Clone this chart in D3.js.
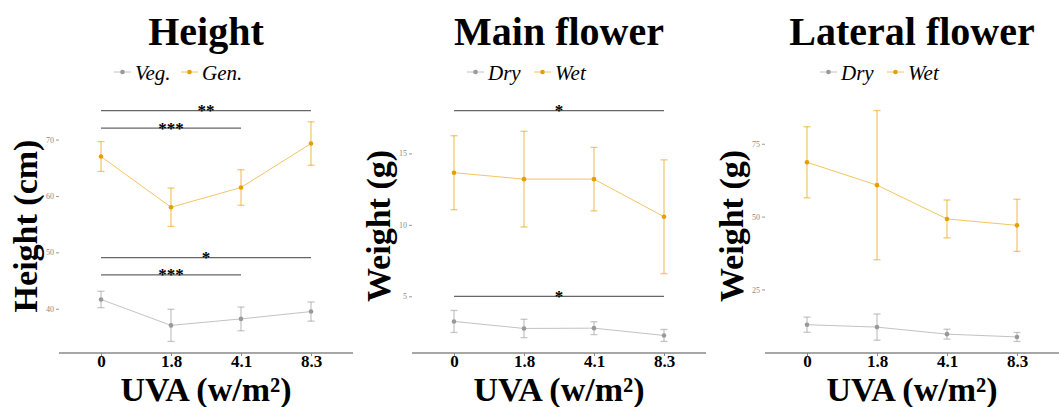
<!DOCTYPE html>
<meta charset="utf-8">
<html>

<head>
    <script src="https://d3js.org/d3.v7.min.js"></script>
    <style>
        body { margin: 0; background: #fff; }
        text { font-family: "Liberation Serif", "Times New Roman", serif; }
    </style>
</head>

<body>
    <div id="chart"></div>

    <script>
        // data
        var doses = ["0", "1.8", "4.1", "8.3"];

        var heightVegMean = [41.65, 37.05, 38.2, 39.5];
        var heightVegErr = [1.45, 2.85, 2.1, 1.7];
        var heightGenMean = [67.0, 58.0, 61.5, 69.3];
        var heightGenErr = [2.65, 3.4, 3.15, 3.85];

        var mainDryMean = [3.24, 2.75, 2.77, 2.26];
        var mainDryErr = [0.77, 0.64, 0.45, 0.42];
        var mainWetMean = [13.65, 13.2, 13.2, 10.57];
        var mainWetErr = [2.59, 3.35, 2.22, 3.98];

        var latDryMean = [12.9, 12.07, 9.66, 8.7];
        var latDryErr = [2.6, 4.5, 1.7, 1.55];
        var latWetMean = [68.64, 60.8, 49.2, 47.0];
        var latWetErr = [12.2, 25.6, 6.5, 8.95];

        // significance bars: [from, to, y, label]
        var heightSig = [["0", "4.1", 46.0, "***"], ["0", "8.3", 49.05, "*"],
                         ["0", "4.1", 72.05, "***"], ["0", "8.3", 75.15, "**"]];
        var mainSig = [["0", "8.3", 5.0, "*"], ["0", "8.3", 18.0, "*"]];
        var latSig = [];

        var heightTicks = [40, 50, 60, 70];
        var mainTicks = [5, 10, 15];
        var latTicks = [25, 50, 75];

        var panels = [
            { title: "Height", ylab: "Height (cm)", names: ["Veg.", "Gen."],
              series: [[heightVegMean, heightVegErr], [heightGenMean, heightGenErr]],
              sig: heightSig, ticks: heightTicks },
            { title: "Main flower", ylab: "Weight (g)", names: ["Dry", "Wet"],
              series: [[mainDryMean, mainDryErr], [mainWetMean, mainWetErr]],
              sig: mainSig, ticks: mainTicks },
            { title: "Lateral flower", ylab: "Weight (g)", names: ["Dry", "Wet"],
              series: [[latDryMean, latDryErr], [latWetMean, latWetErr]],
              sig: latSig, ticks: latTicks }
        ];

        var colors = ["#999999", "#E69F00"];

        var W = 1059, H = 407, panelW = 353;
        var mLeft = 59, mRight = 353, mTop = 99, mBottom = 353;

        var svg = d3.select("#chart")
            .append("svg")
            .attr("width", W)
            .attr("height", H);

        panels.forEach(function (p, i) {
            var g = svg.append("g")
                .attr("transform", "translate(" + (i * panelW) + ",0)");

            var x = d3.scalePoint()
                .domain(doses)
                .range([mLeft, mRight])
                .padding(0.6);

            // y range like ggplot: data extent + 5% each side
            var vals = [];
            p.series.forEach(function (s) {
                s[0].forEach(function (m, k) {
                    vals.push(m - s[1][k], m + s[1][k]);
                });
            });
            p.sig.forEach(function (s) { vals.push(s[2]); });
            var lo = d3.min(vals), hi = d3.max(vals), pad = (hi - lo) * 0.05;
            var y = d3.scaleLinear()
                .domain([lo - pad, hi + pad])
                .range([mBottom, mTop]);

            // title
            g.append("text")
                .attr("x", (mLeft + mRight) / 2)
                .attr("y", 45)
                .attr("text-anchor", "middle")
                .style("font-size", "40px")
                .style("font-weight", "bold")
                .text(p.title);

            // legend
            var lx = [114, 181], tx = [135, 202];
            p.names.forEach(function (nm, k) {
                g.append("line")
                    .attr("x1", lx[k]).attr("x2", lx[k] + 17)
                    .attr("y1", 72).attr("y2", 72)
                    .style("stroke", colors[k])
                    .style("stroke-opacity", 0.6)
                    .style("stroke-width", 1);
                g.append("circle")
                    .attr("cx", lx[k] + 8.5).attr("cy", 72)
                    .attr("r", 2.3)
                    .style("fill", colors[k]);
                g.append("text")
                    .attr("x", tx[k]).attr("y", 80)
                    .style("font-size", "21px")
                    .style("font-style", "italic")
                    .text(nm);
            });

            // x axis
            var xa = g.append("g")
                .attr("transform", "translate(0," + mBottom + ")")
                .call(d3.axisBottom(x).tickSize(3).tickSizeOuter(0).tickPadding(3));
            xa.select(".domain")
                .attr("d", "M" + mLeft + ",0H" + mRight)
                .style("stroke", "#8a8a8a")
                .style("stroke-width", 1.3);
            xa.selectAll(".tick line").style("stroke", "#8a8a8a");
            xa.selectAll(".tick text")
                .attr("y", 14)
                .attr("dy", 0)
                .style("font-family", "'Liberation Serif', serif")
                .style("font-size", "17px")
                .style("font-weight", "bold")
                .style("fill", "#000");

            // y axis (ticks and labels only)
            var ya = g.append("g")
                .attr("transform", "translate(" + mLeft + ",0)")
                .call(d3.axisLeft(y).tickValues(p.ticks).tickSize(3).tickPadding(2));
            ya.select(".domain").remove();
            ya.selectAll(".tick line").style("stroke", "#9a9a9a");
            ya.selectAll(".tick text")
                .style("font-family", "'Liberation Serif', serif")
                .style("font-size", "8px")
                .style("fill", "#8a8a8a");

            // axis titles
            g.append("text")
                .attr("transform", "translate(37," + ((mTop + mBottom) / 2) + ") rotate(-90)")
                .attr("text-anchor", "middle")
                .style("font-size", "34px")
                .style("font-weight", "bold")
                .text(p.ylab);

            g.append("text")
                .attr("x", (mLeft + mRight) / 2)
                .attr("y", 401)
                .attr("text-anchor", "middle")
                .style("font-size", "34px")
                .style("font-weight", "bold")
                .text("UVA (w/m²)");

            // series
            p.series.forEach(function (s, k) {
                var pts = doses.map(function (d, j) {
                    return { d: d, m: s[0][j], e: s[1][j] };
                });
                var line = d3.line()
                    .x(function (d) { return x(d.d); })
                    .y(function (d) { return y(d.m); });
                g.append("path")
                    .datum(pts)
                    .attr("d", line)
                    .style("fill", "none")
                    .style("stroke", colors[k])
                    .style("stroke-opacity", 0.6)
                    .style("stroke-width", 1);

                var eb = g.append("g")
                    .style("stroke", colors[k])
                    .style("stroke-opacity", 0.55)
                    .style("stroke-width", 1.3);
                eb.selectAll(".v").data(pts).enter().append("line")
                    .attr("x1", function (d) { return x(d.d); })
                    .attr("x2", function (d) { return x(d.d); })
                    .attr("y1", function (d) { return y(d.m - d.e); })
                    .attr("y2", function (d) { return y(d.m + d.e); });
                eb.selectAll(".t").data(pts).enter().append("line")
                    .attr("x1", function (d) { return x(d.d) - 3.5; })
                    .attr("x2", function (d) { return x(d.d) + 3.5; })
                    .attr("y1", function (d) { return y(d.m + d.e); })
                    .attr("y2", function (d) { return y(d.m + d.e); });
                eb.selectAll(".b").data(pts).enter().append("line")
                    .attr("x1", function (d) { return x(d.d) - 3.5; })
                    .attr("x2", function (d) { return x(d.d) + 3.5; })
                    .attr("y1", function (d) { return y(d.m - d.e); })
                    .attr("y2", function (d) { return y(d.m - d.e); });

                g.selectAll(".pt" + k).data(pts).enter().append("circle")
                    .attr("cx", function (d) { return x(d.d); })
                    .attr("cy", function (d) { return y(d.m); })
                    .attr("r", 2.3)
                    .style("fill", colors[k]);
            });

            // significance bars
            p.sig.forEach(function (s) {
                g.append("line")
                    .attr("x1", x(s[0])).attr("x2", x(s[1]))
                    .attr("y1", y(s[2])).attr("y2", y(s[2]))
                    .style("stroke", "#666")
                    .style("stroke-width", 1.2);
                g.append("text")
                    .attr("x", (x(s[0]) + x(s[1])) / 2)
                    .attr("y", y(s[2]) + 5.5)
                    .attr("text-anchor", "middle")
                    .style("font-size", "17px")
                    .style("font-weight", "bold")
                    .text(s[3]);
            });
        });
    </script>
</body>

</html>
